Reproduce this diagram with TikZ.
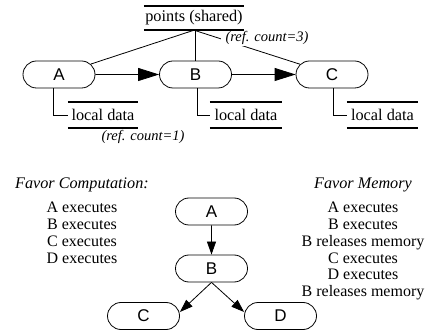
\documentclass[tikz,border=0pt]{standalone}
\usepackage{fontspec}
\setmainfont{Liberation Serif}
\newfontfamily\hv{Liberation Sans}
\usetikzlibrary{shapes.misc,arrows.meta}
\begin{document}
\begin{tikzpicture}[x=1pt,y=-1pt,
  pill/.style={rounded rectangle, draw, line width=0.8pt, minimum width=72pt, minimum height=27pt, inner sep=0pt, font=\hv\fontsize{17}{17}\selectfont},
  store/.style={minimum width=#1, minimum height=25pt, inner sep=0pt, font=\fontsize{16.3}{16}\selectfont},
  bar/.style={line width=2pt},
  conn/.style={line width=0.8pt},
  bigarr/.style={line width=0.8pt, -{Triangle[length=21pt,width=13pt]}},
  smallarr/.style={line width=0.8pt, -{Triangle[length=13pt,width=9pt]}},
  note/.style={inner sep=1pt, font=\itshape\fontsize{14.5}{15}\selectfont},
  title/.style={inner sep=0pt, font=\itshape\fontsize{16.2}{16}\selectfont},
  list/.style={inner sep=0pt, align=center, font=\fontsize{16}{16.8}\selectfont}
]
\useasboundingbox[fill=white] (0,0) rectangle (441,336);
% top part
\node[store=100pt, minimum height=24pt] (pts) at (194,18) {points (shared)};
\node[pill] (A) at (59,74.5) {A};
\node[pill] (B) at (195.5,74.5) {B};
\node[pill] (C) at (332,74.5) {C};
\draw[bigarr] (A) -- (B);
\draw[bigarr] (B) -- (C);
\draw[conn] (pts.south) -- (A);
\draw[conn] (B.north) -- (B.north |- pts.south);
\draw[conn] (pts.south) -- (C);
\node[note, fill=white, inner xsep=5pt] (rc3) at (267,38) {(ref. count=3)};
\node[store=70pt] (ldA) at (103,115) {local data};
\node[store=72pt] (ldB) at (246,115) {local data};
\node[store=71pt] (ldC) at (382.5,115) {local data};
\draw[conn] ([xshift=-6pt]A.south) |- (ldA.west);
\draw[conn] ([xshift=1.5pt]B.south) |- (ldB.west);
\draw[conn] ([xshift=1pt]C.south) |- (ldC.west);
\foreach \n in {pts,ldA,ldB,ldC}{
  \draw[bar] (\n.north west) -- (\n.north east);
  \draw[bar] (\n.south west) -- (\n.south east);
}
\node[note] (rc1) at (143,137) {(ref. count=1)};
% bottom part
\node[title] (fc) at (82,185) {Favor Computation:};
\node[list, anchor=north] (fcl) at (82,202) {A executes\\B executes\\C executes\\D executes};
\node[title] (fm) at (363,185) {Favor Memory};
\node[list, anchor=north] (fml) at (363,202) {A executes\\B executes\\B releases memory\\C executes\\D executes\\B releases memory};
\node[pill] (A2) at (211.5,211.5) {A};
\node[pill] (B2) at (211.5,268.5) {B};
\node[pill] (C2) at (143.5,316) {C};
\node[pill] (D2) at (280.5,316) {D};
\draw[smallarr] (A2) -- (B2);
\draw[smallarr] (B2.south) -- ([yshift=4pt]C2.east);
\draw[smallarr] (B2.south) -- ([yshift=4pt]D2.west);
\end{tikzpicture}
\end{document}
